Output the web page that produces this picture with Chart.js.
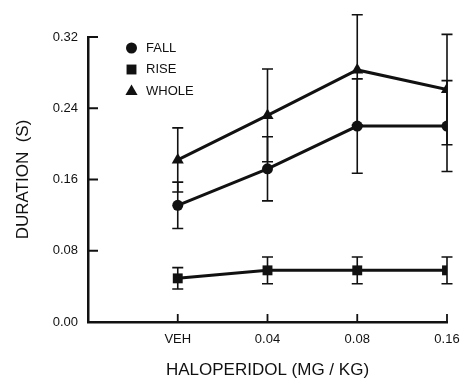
<!DOCTYPE html>
<html>
<head>
<meta charset="utf-8">
<script src="https://cdn.jsdelivr.net/npm/chart.js@4.4.1/dist/chart.umd.min.js"></script>
<style>
  html, body { margin: 0; padding: 0; background: #fff; }
  #wrap { width: 464px; height: 382px; }
</style>
</head>
<body>
<div id="wrap"><canvas id="chart"></canvas></div>
<script>
// haloperidol dose groups and the y ticks
const doseLabels = ['VEH', '0.04', '0.08', '0.16'];
const yTicks = [0, 0.08, 0.16, 0.24, 0.32];

// mean durations (s) and their error bars
const fall = [0.131, 0.172, 0.220, 0.220];
const fallErr = [0.026, 0.036, 0.053, 0.051];
const rise = [0.049, 0.058, 0.058, 0.058];
const riseErr = [0.012, 0.015, 0.015, 0.015];
const whole = [0.182, 0.232, 0.283, 0.261];
const wholeErr = [0.036, 0.052, 0.062, 0.062];

const ink = '#111';
const fontFamily = '"Liberation Sans", Arial, Helvetica, sans-serif';

const toPoints = (arr) => arr.map((v, i) => ({ x: i + 1, y: v }));

function series(label, values, errors, style, radius) {
  return {
    label: label,
    data: toPoints(values),
    errors: errors,
    borderColor: ink,
    backgroundColor: ink,
    borderWidth: 3,
    pointStyle: style,
    pointRadius: radius,
    pointBorderWidth: 0,
    pointBackgroundColor: ink,
    tension: 0,
    fill: false
  };
}

// vertical error bars with caps, drawn under the markers
const errorBars = {
  id: 'errorBars',
  beforeDatasetsDraw(chart) {
    const ctx = chart.ctx;
    const x = chart.scales.x, y = chart.scales.y;
    ctx.save();
    ctx.strokeStyle = ink;
    ctx.lineWidth = 1.6;
    chart.data.datasets.forEach(ds => {
      ds.data.forEach((p, i) => {
        const e = ds.errors[i];
        const px = x.getPixelForValue(p.x);
        const top = y.getPixelForValue(p.y + e);
        const bot = y.getPixelForValue(p.y - e);
        ctx.beginPath();
        ctx.moveTo(px, top); ctx.lineTo(px, bot);
        ctx.moveTo(px - 5.5, top); ctx.lineTo(px + 5.5, top);
        ctx.moveTo(px - 5.5, bot); ctx.lineTo(px + 5.5, bot);
        ctx.stroke();
      });
    });
    ctx.restore();
  }
};

// tick marks pointing into the plot
const innerTicks = {
  id: 'innerTicks',
  afterDraw(chart) {
    const ctx = chart.ctx;
    const area = chart.chartArea;
    ctx.save();
    ctx.strokeStyle = ink;
    ctx.lineWidth = 1.8;
    ctx.beginPath();
    chart.scales.y.ticks.forEach(t => {
      const py = chart.scales.y.getPixelForValue(t.value);
      ctx.moveTo(area.left, py); ctx.lineTo(area.left + 10, py);
    });
    chart.scales.x.ticks.forEach(t => {
      const px = chart.scales.x.getPixelForValue(t.value);
      ctx.moveTo(px, area.bottom); ctx.lineTo(px, area.bottom - 8);
    });
    ctx.stroke();
    ctx.restore();
  }
};

// legend in the upper left of the plot
const markerLegend = {
  id: 'markerLegend',
  afterDraw(chart) {
    const ctx = chart.ctx;
    const area = chart.chartArea;
    ctx.save();
    ctx.fillStyle = ink;
    ctx.font = '13px ' + fontFamily;
    ctx.textBaseline = 'middle';
    ctx.textAlign = 'left';
    chart.data.datasets.forEach((ds, i) => {
      const cy = area.top + 11 + i * 21.5;
      Chart.helpers.drawPoint(ctx, {
        pointStyle: ds.pointStyle,
        rotation: 0,
        radius: ds.pointStyle === 'triangle' ? 7 : ds.pointRadius,
        borderWidth: 0
      }, area.left + 43.5, cy + (ds.pointStyle === 'triangle' ? 0.5 : 0));
      ctx.fillText(ds.label, area.left + 58, cy);
    });
    ctx.restore();
  }
};

new Chart(document.getElementById('chart'), {
  type: 'line',
  data: {
    datasets: [
      series('FALL', fall, fallErr, 'circle', 5.5),
      series('RISE', rise, riseErr, 'rect', 7),
      series('WHOLE', whole, wholeErr, 'triangle', 7)
    ]
  },
  options: {
    responsive: true,
    maintainAspectRatio: false,
    animation: false,
    layout: { padding: { left: 0, top: 37, right: 17, bottom: 0 } },
    plugins: {
      legend: { display: false },
      tooltip: { enabled: false }
    },
    scales: {
      x: {
        type: 'linear',
        min: 0,
        max: 4,
        afterBuildTicks: (s) => { s.ticks = doseLabels.map((_, i) => ({ value: i + 1 })); },
        afterFit: (s) => { s.height = 60; s.paddingLeft = 0; s.paddingRight = 0; },
        grid: { display: false, drawTicks: false },
        border: { display: true, color: ink, width: 2.5 },
        ticks: {
          callback: (v) => doseLabels[v - 1],
          color: ink,
          font: { family: fontFamily, size: 13 },
          padding: 10,
          maxRotation: 0,
          autoSkip: false
        },
        title: {
          display: true,
          text: 'HALOPERIDOL (MG / KG)',
          color: ink,
          font: { family: fontFamily, size: 17 },
          padding: { top: 0, bottom: 1 }
        }
      },
      y: {
        min: 0,
        max: 0.32,
        afterBuildTicks: (s) => { s.ticks = yTicks.map(v => ({ value: v })); },
        afterFit: (s) => { s.width = 88; s.paddingTop = 0; s.paddingBottom = 0; },
        grid: { display: false, drawTicks: false },
        border: { display: true, color: ink, width: 2.5 },
        ticks: {
          callback: (v) => v.toFixed(2),
          color: ink,
          font: { family: fontFamily, size: 13 },
          padding: 10
        },
        title: {
          display: true,
          text: 'DURATION  (S)',
          color: ink,
          font: { family: fontFamily, size: 17 },
          padding: { top: 13, bottom: 0 }
        }
      }
    }
  },
  plugins: [errorBars, innerTicks, markerLegend]
});
</script>
</body>
</html>
